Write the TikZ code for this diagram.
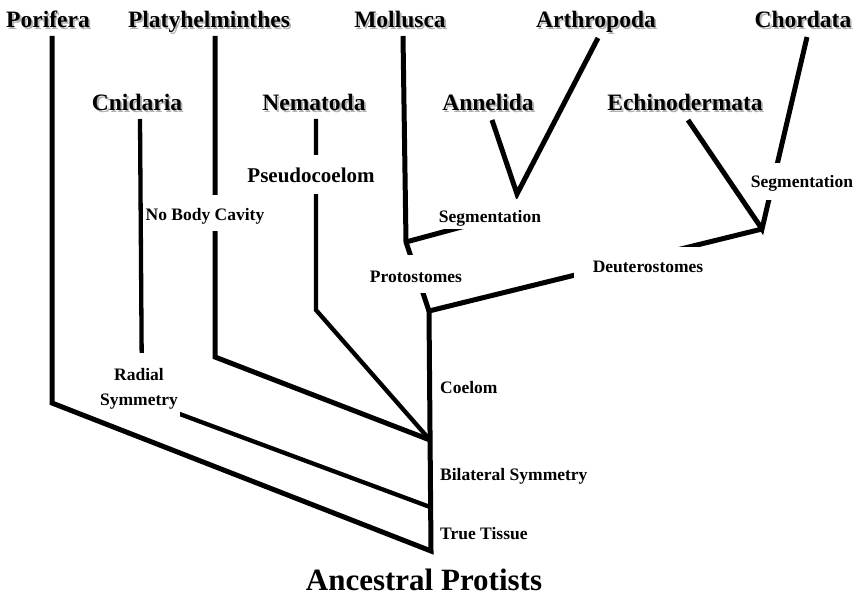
\documentclass[tikz,border=0pt]{standalone}
\usepackage{fontspec}
\setmainfont{Liberation Serif}
\newcommand{\shadowed}[1]{\rlap{\kern1.8bp\raisebox{-1.8bp}{\color{black!30}#1}}#1}
\begin{document}
\begin{tikzpicture}[x=1bp,y=-1bp,
  taxon/.style={font=\fontsize{23.5bp}{28bp}\selectfont\bfseries, anchor=base, inner sep=0},
  lbl/.style={font=\fontsize{17.5bp}{25bp}\selectfont\bfseries, fill=white, anchor=base, inner xsep=2bp, inner ysep=0},
  plain/.style={font=\fontsize{17.5bp}{25bp}\selectfont\bfseries, anchor=base west, inner sep=0},
  brthick/.style={line width=5bp},
  brthin/.style={line width=4.3bp},
  brheavy/.style={line width=5.8bp}]
\useasboundingbox (0,0) rectangle (859,594);

% junction coordinates
\coordinate (porT) at (52,36);
\coordinate (porB) at (52,403);
\coordinate (plaT) at (215,36);
\coordinate (plaB) at (215,357);
\coordinate (cniT) at (140,119);
\coordinate (cniB) at (142,400);
\coordinate (nemT) at (316,119);
\coordinate (nemB) at (316,310);
\coordinate (root) at (431,551);
\coordinate (bil) at (430,507);
\coordinate (coel) at (430,440);
\coordinate (top) at (429,311);
\coordinate (molT) at (403,36);
\coordinate (molB) at (406,242);
\coordinate (segAh) at (517,212);
\coordinate (annT) at (492,120);
\coordinate (artT) at (598,38);
\coordinate (artB) at (517,194);
\coordinate (echT) at (688,120);
\coordinate (choT) at (807,37);
\coordinate (deuB) at (762,229);

% branches
\draw[brthick] (porT) -- (porB) -- (root) -- (top) -- (deuB);
\draw[brthick] (plaT) -- (plaB) -- (coel);
\draw[brthin] (nemT) -- (nemB) -- (coel);
\draw[brthin] (cniT) -- (cniB) -- (bil);
\draw[brthick] (molT) -- (molB) -- (top);
\draw[brthick] (molB) -- (segAh);
\draw[brthick] (annT) -- (artB) -- (artT);
\draw[brthick] (echT) -- (deuB) -- (choT);

% labels on branches
\node[lbl, text height=26bp, text depth=10bp] (nbc) at (205,221) {No Body Cavity};
\node[lbl, font=\fontsize{21bp}{25bp}\selectfont\bfseries, text height=28bp, text depth=11bp] (pse) at (311,183) {Pseudocoelom};
\node[lbl, text height=24bp, text depth=6bp] (segA) at (490,223) {Segmentation};
\node[lbl, text height=27bp, text depth=11bp] (pro) at (416,282) {Protostomes};
\node[lbl, inner xsep=19bp, text height=25bp, text depth=6bp] (deu) at (648,272) {Deuterostomes};
\node[lbl, text height=25bp, text depth=12bp] (segB) at (802,188) {Segmentation};
\node[lbl, anchor=north, align=center] (rad) at (139,353) {\rule{0pt}{27bp}Radial\\Symmetry\rule[-13bp]{0pt}{13bp}};

\node[plain] (coe) at (440,393) {Coelom};
\node[plain] (bsy) at (440,480) {Bilateral Symmetry};
\node[plain] (tts) at (440,539) {True Tissue};

% taxa
\node[taxon] (por) at (48,28) {\shadowed{Porifera}};
\node[taxon] (pla) at (209,28) {\shadowed{Platyhelminthes}};
\node[taxon] (mol) at (400,28) {\shadowed{Mollusca}};
\node[taxon] (art) at (596,28) {\shadowed{Arthropoda}};
\node[taxon] (cho) at (803,28) {\shadowed{Chordata}};
\node[taxon] (cni) at (137,111) {\shadowed{Cnidaria}};
\node[taxon] (nem) at (314,111) {\shadowed{Nematoda}};
\node[taxon] (ann) at (488,111) {\shadowed{Annelida}};
\node[taxon] (ech) at (685,111) {\shadowed{Echinodermata}};

\node[font=\fontsize{31bp}{36bp}\selectfont\bfseries, anchor=base, inner sep=0] (anc) at (424,590) {Ancestral Protists};
\end{tikzpicture}
\end{document}
